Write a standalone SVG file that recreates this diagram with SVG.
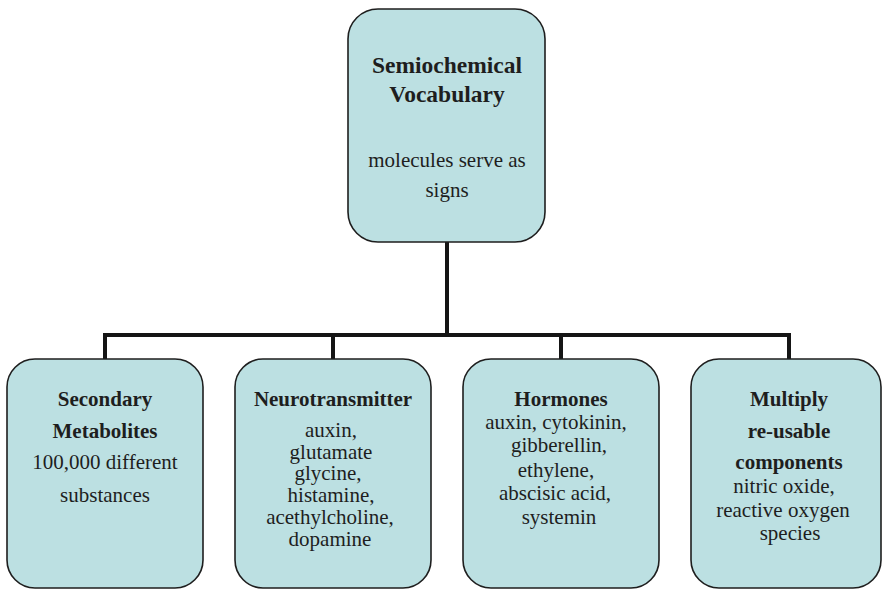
<svg xmlns="http://www.w3.org/2000/svg" width="883" height="590" viewBox="0 0 883 590">
<rect width="883" height="590" fill="#ffffff"/>
<g id="connectors" fill="none" stroke="#151515" stroke-width="4" stroke-linecap="square">
<path d="M447,243 V335 M105,359 V335 H789 V359 M333,335 V359 M561,335 V359"/>
</g>
<g id="node-top">
<rect fill="#bce0e2" stroke="#1e1e1e" stroke-width="1.6" x="348" y="9" width="197" height="233" rx="30" ry="30"/>
<text style="font-family:'Liberation Serif',serif;font-size:23.5px;font-weight:bold" text-anchor="middle" fill="#1e1e1e" x="447" y="73">Semiochemical</text>
<text style="font-family:'Liberation Serif',serif;font-size:23.5px;font-weight:bold" text-anchor="middle" fill="#1e1e1e" x="447" y="102">Vocabulary</text>
<text style="font-family:'Liberation Serif',serif;font-size:21px" text-anchor="middle" fill="#1e1e1e" x="447" y="167">molecules serve as</text>
<text style="font-family:'Liberation Serif',serif;font-size:21px" text-anchor="middle" fill="#1e1e1e" x="447" y="197">signs</text>
</g>
<g id="node-secondary">
<rect fill="#bce0e2" stroke="#1e1e1e" stroke-width="1.6" x="7" y="359" width="196" height="229" rx="28" ry="28"/>
<text style="font-family:'Liberation Serif',serif;font-size:21px;font-weight:bold" text-anchor="middle" fill="#1e1e1e" x="105" y="406">Secondary</text>
<text style="font-family:'Liberation Serif',serif;font-size:21px;font-weight:bold" text-anchor="middle" fill="#1e1e1e" x="105" y="438">Metabolites</text>
<text style="font-family:'Liberation Serif',serif;font-size:21px" text-anchor="middle" fill="#1e1e1e" x="105" y="469">100,000 different</text>
<text style="font-family:'Liberation Serif',serif;font-size:21px" text-anchor="middle" fill="#1e1e1e" x="105" y="502">substances</text>
</g>
<g id="node-neuro">
<rect fill="#bce0e2" stroke="#1e1e1e" stroke-width="1.6" x="235" y="359" width="196" height="229" rx="28" ry="28"/>
<text style="font-family:'Liberation Serif',serif;font-size:21px;font-weight:bold" text-anchor="middle" fill="#1e1e1e" x="333" y="406">Neurotransmitter</text>
<text style="font-family:'Liberation Serif',serif;font-size:21px" text-anchor="middle" fill="#1e1e1e" x="331" y="437">auxin,</text>
<text style="font-family:'Liberation Serif',serif;font-size:21px" text-anchor="middle" fill="#1e1e1e" x="331" y="459">glutamate</text>
<text style="font-family:'Liberation Serif',serif;font-size:21px" text-anchor="middle" fill="#1e1e1e" x="328" y="480">glycine,</text>
<text style="font-family:'Liberation Serif',serif;font-size:21px" text-anchor="middle" fill="#1e1e1e" x="331" y="502">histamine,</text>
<text style="font-family:'Liberation Serif',serif;font-size:21px" text-anchor="middle" fill="#1e1e1e" x="330" y="524">acethylcholine,</text>
<text style="font-family:'Liberation Serif',serif;font-size:21px" text-anchor="middle" fill="#1e1e1e" x="330" y="546">dopamine</text>
</g>
<g id="node-hormones">
<rect fill="#bce0e2" stroke="#1e1e1e" stroke-width="1.6" x="463" y="359" width="196" height="229" rx="28" ry="28"/>
<text style="font-family:'Liberation Serif',serif;font-size:21px;font-weight:bold" text-anchor="middle" fill="#1e1e1e" x="561" y="406">Hormones</text>
<text style="font-family:'Liberation Serif',serif;font-size:21px" text-anchor="middle" fill="#1e1e1e" x="556" y="429">auxin, cytokinin,</text>
<text style="font-family:'Liberation Serif',serif;font-size:21px" text-anchor="middle" fill="#1e1e1e" x="559" y="452">gibberellin,</text>
<text style="font-family:'Liberation Serif',serif;font-size:21px" text-anchor="middle" fill="#1e1e1e" x="556" y="477">ethylene,</text>
<text style="font-family:'Liberation Serif',serif;font-size:21px" text-anchor="middle" fill="#1e1e1e" x="555" y="500">abscisic acid,</text>
<text style="font-family:'Liberation Serif',serif;font-size:21px" text-anchor="middle" fill="#1e1e1e" x="559" y="524">systemin</text>
</g>
<g id="node-multiply">
<rect fill="#bce0e2" stroke="#1e1e1e" stroke-width="1.6" x="691" y="359" width="190" height="229" rx="28" ry="28"/>
<text style="font-family:'Liberation Serif',serif;font-size:21px;font-weight:bold" text-anchor="middle" fill="#1e1e1e" x="789" y="406">Multiply</text>
<text style="font-family:'Liberation Serif',serif;font-size:21px;font-weight:bold" text-anchor="middle" fill="#1e1e1e" x="789" y="438">re-usable</text>
<text style="font-family:'Liberation Serif',serif;font-size:21px;font-weight:bold" text-anchor="middle" fill="#1e1e1e" x="789" y="469">components</text>
<text style="font-family:'Liberation Serif',serif;font-size:21px" text-anchor="middle" fill="#1e1e1e" x="784" y="493">nitric oxide,</text>
<text style="font-family:'Liberation Serif',serif;font-size:21px" text-anchor="middle" fill="#1e1e1e" x="783" y="517">reactive oxygen</text>
<text style="font-family:'Liberation Serif',serif;font-size:21px" text-anchor="middle" fill="#1e1e1e" x="790" y="540">species</text>
</g>
</svg>
